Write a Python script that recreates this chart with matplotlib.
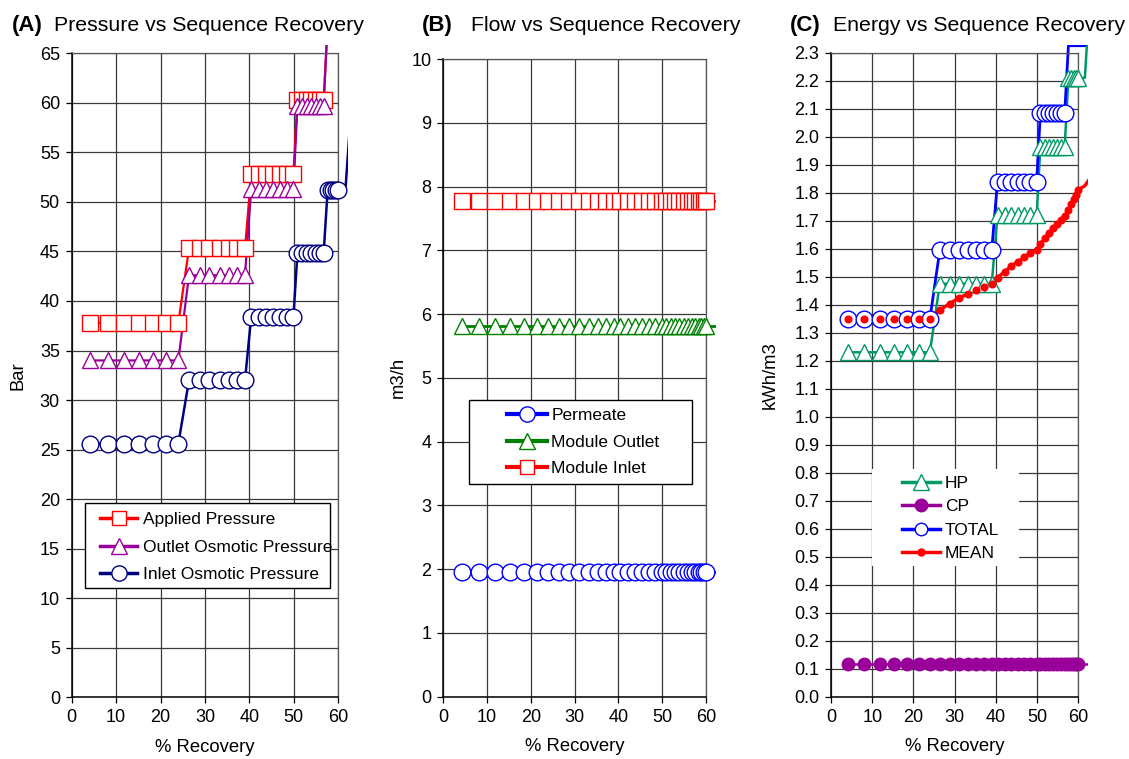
import numpy as np
import matplotlib
matplotlib.use('Agg')
import matplotlib.pyplot as plt
from matplotlib.lines import Line2D
from matplotlib.patches import Rectangle

plt.rcParams['font.family'] = ['Liberation Sans', 'DejaVu Sans']

W, H = 1129, 759

# cumulative % recovery of each element in the sequence
# (7 elements per stage; the last two points lie just past the 60 % axis end)
recovery = np.array([4.2, 8.1, 11.8, 15.2, 18.4, 21.3, 24.0,
                     26.4, 28.8, 31.0, 33.3, 35.3, 37.2, 39.0,
                     40.4, 42.1, 43.7, 45.3, 46.9, 48.4, 49.9,
                     50.8, 51.9, 52.9, 53.9, 54.9, 55.8, 56.7,
                     57.6, 58.3, 58.9, 59.5, 60.0, 61.6, 62.6])
stage_size = [7, 7, 7, 7, 6, 1]

# (A) pressure at each stage, bar
applied_pressure = [37.8, 45.3, 52.8, 60.3, 67.8, 75.3]
outlet_osmotic = [34.0, 42.6, 51.3, 59.7, 68.2, 76.8]
inlet_osmotic = [25.6, 32.0, 38.4, 44.8, 51.2, 57.6]

# (B) flows, m3/h (same for every element)
permeate_flow = 1.95
outlet_flow = 5.82
inlet_flow = 7.77

# (C) specific energy, kWh/m3
hp_energy = [1.23, 1.475, 1.72, 1.965, 2.21, 2.455]
cp_energy = 0.117
total_energy = [1.35, 1.595, 1.84, 2.085, 2.325, 2.57]
mean_energy = [1.35, 1.35, 1.35, 1.35, 1.35, 1.35, 1.35,
               1.381, 1.404, 1.424, 1.439, 1.452, 1.463, 1.473,
               1.497, 1.518, 1.537, 1.554, 1.569, 1.583, 1.595,
               1.617, 1.638, 1.656, 1.673, 1.689, 1.704, 1.718,
               1.738, 1.758, 1.776, 1.793, 1.810, 1.825, 1.846]


def per_element(stage_values):
    return np.repeat(stage_values, stage_size)


def fig_box(x0, y0, x1, y1):
    # pixel box (top-left origin) -> figure fraction [l, b, w, h]
    return [x0 / W, 1 - y1 / H, (x1 - x0) / W, (y1 - y0) / H]


def setup_axes(box, ymax, ystep, yfmt=None):
    ax = fig.add_axes(fig_box(*box))
    ax.set_xlim(0, 60)
    ax.set_ylim(0, ymax)
    ax.set_xticks(np.arange(0, 61, 10))
    ax.set_yticks(np.arange(0, ymax + ystep / 2, ystep))
    if yfmt:
        ax.yaxis.set_major_formatter(yfmt)
    ax.grid(True, color='#3a3a3a', lw=0.9)
    ax.set_axisbelow(True)
    for side in ['top', 'right']:
        ax.spines[side].set_color('#555555')
        ax.spines[side].set_linewidth(0.9)
    for side in ['left', 'bottom']:
        ax.spines[side].set_color('black')
        ax.spines[side].set_linewidth(1.1)
    ax.tick_params(direction='out', length=4, width=0.9, labelsize=13, pad=4.5)
    ax.set_xlabel('% Recovery', fontsize=13.3, labelpad=9)
    return ax


def draw_series(ax, y, color, marker, ms, lw, ymax, mfc='white'):
    x = recovery
    y = np.asarray(y, dtype=float)
    # Excel lets the line run a little past the plot edge, markers stop at the axis
    line, = ax.plot(x, y, color=color, lw=lw, zorder=2)
    line.set_clip_path(Rectangle((0, 0), 1 + 10 / ax.bbox.width,
                                 1 + 8 / ax.bbox.height, transform=ax.transAxes))
    keep = (x <= 60.01) & (y <= ymax)
    ax.plot(x[keep], y[keep], ls='none', marker=marker, ms=ms, mfc=mfc,
            mec=color, mew=1.0, clip_on=False, zorder=3)


def legend_box(ax, box, edge):
    x0, y0, x1, y1 = box
    ax.add_patch(Rectangle((x0 / W, 1 - y1 / H), (x1 - x0) / W, (y1 - y0) / H,
                           transform=fig.transFigure, facecolor='white',
                           edgecolor=edge, lw=1.0, clip_on=False, zorder=4))


def handle(color, marker, ms, mfc='white', lw=2.5):
    return Line2D([], [], color=color, lw=lw, marker=marker, ms=ms, mfc=mfc,
                  mec=color, mew=1.0)


fig = plt.figure(figsize=(W / 100, H / 100), dpi=100)

# ---------------- (A) pressure ----------------
axA = setup_axes((71.7, 53.3, 338.3, 697.3), 65, 5)
draw_series(axA, per_element(applied_pressure), '#FF0000', 's', 12, 1.6, 65)
draw_series(axA, per_element(outlet_osmotic), '#990099', '^', 12, 1.6, 65)
draw_series(axA, per_element(inlet_osmotic), '#000080', 'o', 12, 1.8, 65)
axA.set_ylabel('Bar', fontsize=13.3)
axA.yaxis.set_label_coords(-0.17, 0.5)
legend_box(axA, (85, 503.3, 330, 587.7), 'black')
axA.legend([handle('#FF0000', 's', 10), handle('#990099', '^', 11), handle('#000080', 'o', 11)],
           ['Applied Pressure', 'Outlet Osmotic Pressure', 'Inlet Osmotic Pressure'],
           loc='upper left', bbox_to_anchor=(100 / W, 1 - 512 / H),
           bbox_transform=fig.transFigure, frameon=False, fontsize=12.5,
           handlelength=2.15, handletextpad=0.3, labelspacing=0.71,
           borderpad=0, borderaxespad=0)

# ---------------- (B) flow ----------------
axB = setup_axes((443.3, 59, 706, 696.7), 10, 1)
n = len(recovery)
draw_series(axB, np.full(n, permeate_flow), '#0000FF', 'o', 12, 1.8, 10)
draw_series(axB, np.full(n, outlet_flow), '#008000', '^', 12, 2.0, 10)
draw_series(axB, np.full(n, inlet_flow), '#FF0000', 's', 12, 1.8, 10)
axB.set_ylabel('m3/h', fontsize=13.3)
axB.yaxis.set_label_coords(-0.14, 0.5)
legend_box(axB, (469.3, 400, 691.7, 484.3), 'black')
axB.legend([handle('#0000FF', 'o', 11, lw=3), handle('#008000', '^', 11, lw=3),
            handle('#FF0000', 's', 10, lw=3)],
           ['Permeate', 'Module Outlet', 'Module Inlet'],
           loc='upper left', bbox_to_anchor=(507 / W, 1 - 408 / H),
           bbox_transform=fig.transFigure, frameon=False, fontsize=12.5,
           handlelength=2.3, handletextpad=0.25, labelspacing=0.66,
           borderpad=0, borderaxespad=0)

# ---------------- (C) energy ----------------
axC = setup_axes((831, 52.7, 1078.3, 696.7), 2.3, 0.1,
                 matplotlib.ticker.FormatStrFormatter('%.1f'))
draw_series(axC, per_element(hp_energy), '#009966', '^', 12, 1.8, 2.3)
draw_series(axC, np.full(n, cp_energy), '#990099', 'o', 9, 1.8, 2.3, mfc='#990099')
draw_series(axC, per_element(total_energy), '#0000FF', 'o', 12, 2.0, 2.3)
draw_series(axC, mean_energy, '#FF0000', 'o', 4.8, 2.4, 2.3, mfc='#FF0000')
axC.set_ylabel('kWh/m3', fontsize=13.3)
axC.yaxis.set_label_coords(-0.21, 0.5)
legend_box(axC, (871.7, 469.3, 1019.3, 566), 'none')
axC.legend([handle('#009966', '^', 11), handle('#990099', 'o', 9, mfc='#990099'),
            handle('#0000FF', 'o', 9), handle('#FF0000', 'o', 5, mfc='#FF0000')],
           ['HP', 'CP', 'TOTAL', 'MEAN'],
           loc='upper left', bbox_to_anchor=(902.3 / W, 1 - 476 / H),
           bbox_transform=fig.transFigure, frameon=False, fontsize=12.5,
           handlelength=2.2, handletextpad=0.25, labelspacing=0.47,
           borderpad=0, borderaxespad=0)

# panel titles: bold letter + plain text
titles = [(11.7, '(A)', 54, 'Pressure vs Sequence Recovery'),
          (422, '(B)', 470.7, 'Flow vs Sequence Recovery'),
          (790, '(C)', 832.7, 'Energy vs Sequence Recovery')]
for xl, letter, xt, text in titles:
    fig.text(xl / W, 1 - 31 / H, letter, fontsize=16, fontweight='bold', va='baseline')
    fig.text(xt / W, 1 - 31 / H, text, fontsize=15.3, va='baseline')

fig.savefig('out.png', dpi=100)
